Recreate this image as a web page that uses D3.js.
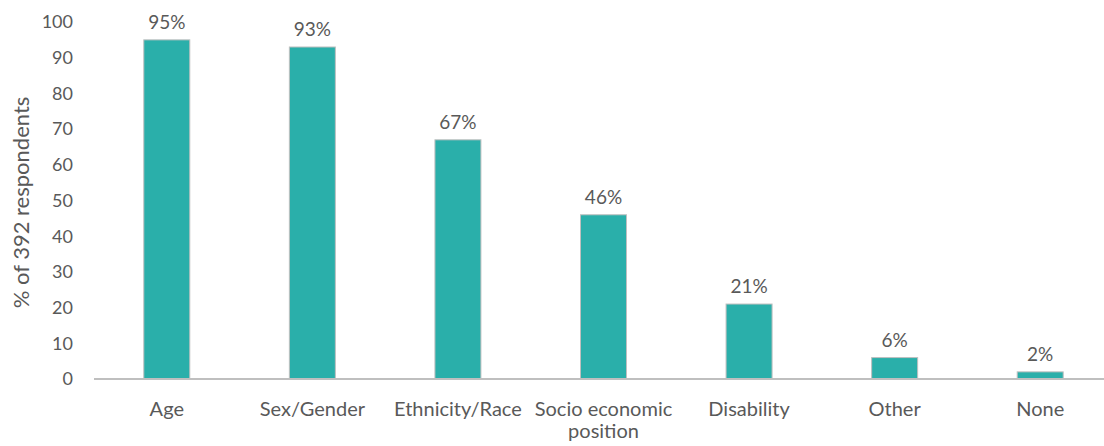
<!DOCTYPE html>
<html>
<head>
<meta charset="utf-8">
<script src="https://cdn.jsdelivr.net/npm/d3@7"></script>
<style>
  html, body { margin: 0; padding: 0; background: #fff; }
  svg text { font-family: Lato, "Open Sans", sans-serif; fill: #595959; }
</style>
</head>
<body>
<svg id="chart" width="1104" height="446"></svg>
<script>
const categories = ["Age", "Sex/Gender", "Ethnicity/Race", "Socio economic position", "Disability", "Other", "None"];
const values = [95, 93, 67, 46, 21, 6, 2];
const yTicks = [0, 10, 20, 30, 40, 50, 60, 70, 80, 90, 100];
const yTitle = "% of 392 respondents";

const svg = d3.select("#chart");
const x = d3.scaleBand().domain(categories).range([94, 1113]).paddingInner(0.684).paddingOuter(0.342);
const y = d3.scaleLinear().domain([0, 100]).range([379, 22]);

// value axis: tick labels only, no grid
svg.append("g").selectAll("text").data(yTicks).join("text")
  .attr("x", 73).attr("y", d => y(d)).attr("dy", "0.35em")
  .attr("text-anchor", "end").attr("font-size", 18)
  .text(d => d);

svg.append("text")
  .attr("transform", `translate(29,${y(50) + 2}) rotate(-90)`)
  .attr("text-anchor", "middle").attr("font-size", 22)
  .text(yTitle);

// bars
svg.append("g").selectAll("rect").data(values).join("rect")
  .attr("x", (d, i) => x(categories[i]))
  .attr("width", x.bandwidth())
  .attr("y", d => y(d))
  .attr("height", d => y(0) - y(d))
  .attr("fill", "#2AAFAA")
  .attr("stroke", "#bfbfbf").attr("stroke-width", 1);

// value labels
svg.append("g").selectAll("text").data(values).join("text")
  .attr("x", (d, i) => x(categories[i]) + x.bandwidth() / 2)
  .attr("y", d => y(d) - 11)
  .attr("text-anchor", "middle").attr("font-size", 19)
  .text(d => d + "%");

// baseline
svg.append("line")
  .attr("x1", 94).attr("x2", 1104).attr("y1", y(0)).attr("y2", y(0))
  .attr("stroke", "#bfbfbf").attr("stroke-width", 2);

// category labels, wrapped onto two lines where needed
const wrapped = { "Socio economic position": ["Socio economic", "position"] };
const cat = svg.append("g").selectAll("text").data(categories).join("text")
  .attr("x", d => x(d) + x.bandwidth() / 2)
  .attr("y", 416)
  .attr("text-anchor", "middle").attr("font-size", 20);
cat.each(function(d) {
  const lines = wrapped[d] || [d];
  d3.select(this).selectAll("tspan").data(lines).join("tspan")
    .attr("x", x(d) + x.bandwidth() / 2)
    .attr("dy", (l, i) => i === 0 ? 0 : 22)
    .text(l => l);
});
</script>
</body>
</html>
